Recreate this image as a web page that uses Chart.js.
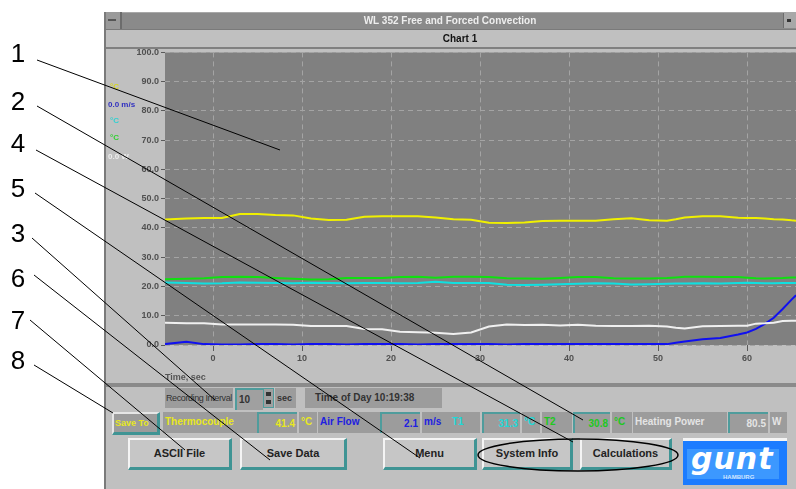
<!DOCTYPE html>
<html>
<head>
<meta charset="utf-8">
<script src="https://cdn.jsdelivr.net/npm/chart.js@4.4.1/dist/chart.umd.min.js"></script>
<style>
body{margin:0;width:796px;height:489px;background:#fff;position:relative;overflow:hidden;font-family:"Liberation Sans",Arial,sans-serif;}
.a{position:absolute;box-sizing:border-box;}
.box{position:absolute;box-sizing:border-box;background:#9c9c9c;font-size:10px;font-weight:bold;line-height:20px;white-space:nowrap;overflow:hidden;padding:0 2px;}
.val{border-top:2px solid #4f9c9c;border-left:2px solid #4f9c9c;text-align:right;}
.btn{position:absolute;box-sizing:border-box;background:#c6c6c6;border-top:2px solid #f4f4f4;border-left:2px solid #f4f4f4;border-right:3px solid #3f9494;border-bottom:3px solid #3f9494;font-size:11px;font-weight:bold;color:#222;text-align:center;line-height:27px;}
.unit{position:absolute;font-size:8px;font-weight:bold;}
</style>
</head>
<body>
<!-- fenster -->
<div class="a" style="left:104px;top:12px;width:692px;height:477px;background:#c0c0c0;"></div>

<div class="a" style="left:104px;top:45px;width:692px;height:338px;"><canvas id="c"></canvas></div>

<div class="a" style="left:104px;top:12px;width:692px;height:17px;background:#8a8a8a;border-top:1px solid #a8a8a8;"></div>
<div class="a" style="left:104px;top:12px;width:18px;height:17px;background:#9a9a9a;border-right:2px solid #6c6c6c;"></div>
<div class="a" style="left:108px;top:19px;width:8px;height:2px;background:#555;"></div>
<div class="a" style="left:783px;top:13px;width:13px;height:15px;background:#a8a8a8;border-left:1px solid #6c6c6c;"></div>
<div class="a" style="left:787px;top:19px;width:4px;height:3px;background:#333;"></div>
<div class="a" style="left:330px;top:13px;width:240px;height:16px;color:#eee;font-size:10px;font-weight:bold;text-align:center;line-height:16px;">WL 352 Free and Forced Convection</div>
<div class="a" style="left:104px;top:29px;width:692px;height:20px;background:#c0c0c0;border-top:1px solid #7a7a7a;border-bottom:2px solid #808080;"></div>
<div class="a" style="left:420px;top:31px;width:80px;height:16px;color:#111;font-size:10px;font-weight:bold;text-align:center;line-height:16px;">Chart 1</div>
<div class="a" style="left:104px;top:12px;width:2px;height:477px;background:#7a7a7a;"></div>

<div class="unit" style="left:110px;top:82px;color:#d8d820;">°C</div>
<div class="unit" style="left:108px;top:100px;color:#3030c0;">0.0 m/s</div>
<div class="unit" style="left:110px;top:116px;color:#30d0d0;">°C</div>
<div class="unit" style="left:110px;top:133px;color:#30d030;">°C</div>
<div class="unit" style="left:108px;top:152px;color:#eee;">0.0 W</div>

<div class="a" style="left:106px;top:383px;width:690px;height:4px;background:#8a8a8a;"></div>

<!-- zeile 1 -->
<div class="box" style="left:165px;top:388px;width:68px;color:#333;font-size:9px;font-weight:normal;letter-spacing:-0.4px;padding:0 1px;">Recording Interval</div>
<div class="box val" style="left:235px;top:388px;width:28px;color:#333;text-align:left;background:#a0a0a0;">10</div>
<div class="a" style="left:263px;top:388px;width:11px;height:20px;background:#a0a0a0;border:1px solid #4f9c9c;"></div>
<div class="a" style="left:266px;top:392px;width:5px;height:4px;background:#333;"></div>
<div class="a" style="left:266px;top:400px;width:5px;height:4px;background:#333;"></div>
<div class="box" style="left:275px;top:388px;width:21px;color:#333;font-size:9px;">sec</div>
<div class="box" style="left:305px;top:388px;width:137px;color:#333;padding-left:10px;">Time of Day 10:19:38</div>

<!-- zeile 2 -->
<div class="box" style="left:112px;top:412px;width:48px;height:23px;color:#e8e820;border-right:3px solid #3f9494;border-bottom:3px solid #3f9494;border-left:2px solid #e6e6e6;border-top:2px solid #e6e6e6;line-height:18px;font-size:9px;padding:0 1px;">Save To</div>
<div class="box" style="left:163px;top:412px;width:94px;height:21px;color:#e8e820;">Thermocouple</div>
<div class="box val" style="left:257px;top:412px;width:40px;height:21px;color:#e8e820;line-height:19px;">41.4</div>
<div class="box" style="left:299px;top:412px;width:18px;height:21px;color:#e8e820;">°C</div>
<div class="box" style="left:318px;top:412px;width:62px;height:21px;color:#2020e0;">Air Flow</div>
<div class="box val" style="left:380px;top:412px;width:40px;height:21px;color:#2020e0;line-height:19px;">2.1</div>
<div class="box" style="left:422px;top:412px;width:28px;height:21px;color:#2020e0;">m/s</div>
<div class="box" style="left:450px;top:412px;width:30px;height:21px;color:#20d8d8;">T1</div>
<div class="box val" style="left:482px;top:412px;width:38px;height:21px;color:#20d8d8;line-height:19px;">31.3</div>
<div class="box" style="left:522px;top:412px;width:18px;height:21px;color:#20d8d8;">°C</div>
<div class="box" style="left:542px;top:412px;width:30px;height:21px;color:#20c820;">T2</div>
<div class="box val" style="left:573px;top:412px;width:37px;height:21px;color:#20c820;line-height:19px;">30.8</div>
<div class="box" style="left:612px;top:412px;width:20px;height:21px;color:#20c820;">°C</div>
<div class="box" style="left:633px;top:412px;width:94px;height:21px;color:#e4e4e4;">Heating Power</div>
<div class="box val" style="left:728px;top:412px;width:40px;height:21px;color:#e4e4e4;line-height:19px;">80.5</div>
<div class="box" style="left:770px;top:412px;width:17px;height:21px;color:#e4e4e4;">W</div>

<!-- zeile 3 -->
<div class="btn" style="left:128px;top:438px;width:104px;height:32px;">ASCII File</div>
<div class="btn" style="left:240px;top:438px;width:107px;height:32px;">Save Data</div>
<div class="btn" style="left:383px;top:438px;width:94px;height:32px;">Menu</div>
<div class="btn" style="left:482px;top:438px;width:91px;height:32px;">System Info</div>
<div class="btn" style="left:580px;top:438px;width:92px;height:32px;">Calculations</div>
<div class="a" style="left:683px;top:438px;width:104px;height:47px;background:#1c7cff;border-top:3px solid #f4f4f4;overflow:hidden;">
  <div style="position:absolute;left:4px;top:8px;width:92px;height:30px;background:#3c98ff;"></div>
  <div style="position:absolute;left:8px;top:0px;color:#fff;font:bold italic 30px 'DejaVu Sans',sans-serif;line-height:36px;letter-spacing:1px;">gunt</div>
  <div style="position:absolute;left:40px;top:33px;color:#cfe4ff;font:bold 6px sans-serif;">HAMBURG</div>
</div>

<!-- legenden -->
<svg class="a" style="left:0;top:0;" width="796" height="489">
  <g stroke="#000" stroke-width="1" fill="none">
    <line x1="37" y1="60" x2="280" y2="150"/>
    <line x1="37" y1="106" x2="583" y2="420"/>
    <line x1="36" y1="150" x2="573" y2="442"/>
    <line x1="35" y1="193" x2="420" y2="458"/>
    <line x1="32" y1="238" x2="215" y2="400"/>
    <line x1="34" y1="275" x2="270" y2="460"/>
    <line x1="30" y1="320" x2="185" y2="450"/>
    <line x1="34" y1="365" x2="113" y2="413"/>
    <ellipse cx="578" cy="455" rx="100" ry="16" stroke-width="1.5"/>
  </g>
  <g font-family="Liberation Sans, Arial, sans-serif" font-size="26" fill="#000" text-anchor="middle">
    <text x="18" y="62">1</text>
    <text x="18" y="110">2</text>
    <text x="18" y="152">4</text>
    <text x="18" y="197">5</text>
    <text x="18" y="242">3</text>
    <text x="18" y="287">6</text>
    <text x="18" y="329">7</text>
    <text x="18" y="369">8</text>
  </g>
</svg>

<script>
const timeSec = [-5.4, -3, -1, 1, 3, 5, 7, 9, 11, 13, 15, 17, 19, 21, 23, 25, 27, 29, 31, 33, 35, 37, 39, 41, 43, 45, 47, 49, 51, 52, 53, 55, 57, 59, 60, 61, 62, 63, 64, 65, 65.5];
const thermocouple = [42.9, 43.2, 43.4, 43.4, 44.8, 44.8, 44.4, 44.3, 43.2, 42.7, 42.8, 43.8, 44.0, 44.0, 44.0, 43.6, 43.0, 42.8, 41.8, 41.7, 41.9, 42.4, 42.5, 42.5, 42.5, 43.0, 43.3, 42.6, 42.5, 43.0, 43.6, 44.0, 44.0, 43.5, 43.4, 43.4, 43.2, 43.0, 42.9, 42.6, 42.5];
const t2 = [22.5, 22.6, 22.8, 23.2, 23.3, 23.2, 22.9, 22.6, 22.4, 22.5, 22.9, 22.9, 22.9, 23.2, 23.3, 23.0, 23.3, 23.3, 23.2, 22.8, 22.7, 22.6, 22.9, 23.2, 23.2, 22.8, 22.7, 22.7, 22.9, 23.1, 23.3, 23.3, 23.2, 23.2, 23.0, 22.8, 22.7, 22.8, 22.9, 23.1, 23.1];
const t1 = [21.4, 21.2, 21.0, 21.1, 21.4, 21.3, 21.2, 21.1, 21.3, 21.2, 21.1, 21.2, 21.2, 21.1, 21.2, 21.6, 21.2, 21.2, 21.2, 20.6, 20.5, 20.6, 20.8, 20.9, 21.1, 21.0, 20.7, 20.8, 20.9, 21.0, 21.0, 21.1, 21.0, 21.2, 21.3, 21.2, 21.1, 21.1, 21.2, 21.2, 21.2];
const heatingPower = [7.6, 7.4, 7.4, 7.0, 7.0, 7.0, 7.0, 6.9, 6.5, 6.5, 6.5, 5.5, 5.4, 4.5, 4.4, 4.2, 3.8, 4.3, 6.3, 7.0, 6.8, 6.9, 6.7, 6.9, 6.6, 6.5, 6.5, 6.6, 6.3, 5.9, 5.6, 6.4, 6.5, 6.6, 6.6, 7.3, 7.4, 7.6, 8.2, 8.3, 8.3];
const airFlow = [0.3, 1.1, 0.3, 0.2, 0.2, 0.3, 0.3, 0.2, 0.3, 0.3, 0.2, 0.3, 0.3, 0.3, 0.2, 0.3, 0.3, 0.3, 0.3, 0.2, 0.3, 0.3, 0.3, 0.3, 0.3, 0.3, 0.3, 0.3, 0.3, 0.8, 1.2, 2.0, 2.4, 3.6, 4.3, 5.5, 7.2, 9.3, 12.3, 15.5, 17.0];

const xTicks = [0, 10, 20, 30, 40, 50, 60];
const yTicks = [0, 10, 20, 30, 40, 50, 60, 70, 80, 90, 100];

const seriesNames = ['Thermocouple', 'T2', 'T1', 'Heating Power', 'Air Flow'];
const seriesValues = [thermocouple, t2, t1, heatingPower, airFlow];
const seriesColors = ['#f0f000', '#10e010', '#10e0e0', '#f0f0f0', '#1010f0'];

// Hintergrund der Plotfläche
const plotBg = {
    id: 'plotBg',
    beforeDraw(chart) {
        const a = chart.chartArea;
        const ctx = chart.ctx;
        ctx.save();
        ctx.fillStyle = '#808080';
        ctx.fillRect(a.left, a.top, a.right - a.left, a.bottom - a.top);
        ctx.restore();
    }
};

const labelFont = { family: "'Liberation Sans', Arial, sans-serif", size: 9, weight: 'bold' };

new Chart(document.getElementById('c'), {
    type: 'line',
    data: {
        datasets: seriesNames.map((name, i) => ({
            label: name,
            data: timeSec.map((t, k) => ({ x: t, y: seriesValues[i][k] })),
            borderColor: seriesColors[i],
            borderWidth: 2,
            pointRadius: 0,
            tension: 0
        }))
    },
    plugins: [plotBg],
    options: {
        responsive: true,
        maintainAspectRatio: false,
        animation: false,
        layout: { padding: 0 },
        plugins: {
            legend: { display: false },
            tooltip: { enabled: false }
        },
        scales: {
            x: {
                type: 'linear',
                min: -5.4,
                max: 65.5,
                afterBuildTicks: s => { s.ticks = xTicks.map(v => ({ value: v })); },
                afterFit: s => { s.height = 38; },
                grid: { color: '#a4a4a4', tickColor: '#5a5a5a', tickLength: 6, tickBorderDash: [] },
                border: { display: false, dash: [5, 4] },
                ticks: { color: '#505050', font: labelFont, padding: 2, maxRotation: 0 },
                title: { display: true, text: 'Time, sec', align: 'start', color: '#555', font: labelFont, padding: 0 }
            },
            y: {
                min: 0,
                max: 100,
                afterBuildTicks: s => { s.ticks = yTicks.map(v => ({ value: v })); },
                afterFit: s => { s.width = 61; },
                grid: { color: '#a4a4a4', tickColor: '#5a5a5a', tickLength: 4, tickBorderDash: [] },
                border: { display: false, dash: [5, 4] },
                ticks: { color: '#505050', font: labelFont, padding: 2, callback: v => v.toFixed(1) }
            }
        }
    }
});
</script>
</body>
</html>
